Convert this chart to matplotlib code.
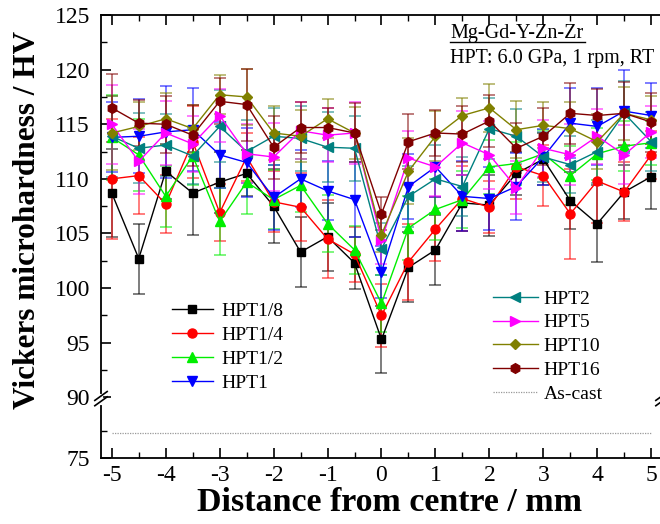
import numpy as np
import matplotlib
matplotlib.use("Agg")
import matplotlib.pyplot as plt
from matplotlib.lines import Line2D

plt.rcParams['font.family'] = ['Liberation Serif', 'DejaVu Serif']
plt.rcParams['axes.unicode_minus'] = False

# positions along the disc diameter (mm)
dist = [-5, -4.5, -4, -3.5, -3, -2.5, -2, -1.5, -1, -0.5, 0,
        0.5, 1, 1.5, 2, 2.5, 3, 3.5, 4, 4.5, 5]

hpt1_8 = [108.7, 102.7, 110.7, 108.7, 109.7, 110.5, 107.5, 103.3, 104.7, 102.3, 95.3,
          101.9, 103.5, 107.8, 107.6, 110.5, 111.8, 108.0, 105.9, 108.8, 110.2]
hpt1_4 = [110.0, 110.3, 107.7, 113.4, 106.9, 112.0, 107.9, 107.4, 104.5, 103.1, 97.5,
          102.4, 105.4, 108.2, 107.4, 111.1, 110.3, 106.8, 109.8, 108.8, 112.2]
hpt1_2 = [113.8, 112.2, 108.4, 112.1, 106.1, 109.7, 108.1, 109.4, 105.9, 103.5, 98.6,
          105.5, 107.2, 108.1, 111.1, 111.4, 112.3, 110.3, 112.3, 113.0, 113.3]
hpt1 = [113.8, 113.9, 114.3, 114.5, 112.2, 111.5, 108.3, 110.0, 108.9, 108.1, 101.5,
        109.3, 111.1, 108.4, 108.2, 109.3, 112.0, 115.1, 114.8, 116.2, 115.8]
hpt2 = [113.9, 112.8, 113.1, 112.1, 114.8, 112.5, 113.9, 113.7, 112.9, 112.8, 103.6,
        108.4, 110.0, 109.3, 114.6, 113.9, 112.0, 111.3, 112.5, 116.0, 113.4]
hpt5 = [115.0, 111.6, 114.2, 113.2, 115.8, 112.3, 112.0, 114.4, 114.0, 114.2, 104.4,
        111.9, 111.1, 113.3, 112.2, 109.2, 112.8, 112.2, 113.9, 112.2, 114.3]
hpt10 = [114.2, 114.8, 115.5, 114.6, 117.7, 117.5, 114.2, 113.9, 115.5, 114.2, 104.9,
         110.7, 113.9, 115.8, 116.5, 114.5, 114.9, 114.6, 113.4, 116.0, 115.4]
hpt16 = [116.5, 115.1, 115.0, 114.0, 117.1, 116.8, 112.9, 114.7, 114.7, 114.2, 106.8,
         113.4, 114.2, 114.1, 115.3, 112.8, 113.9, 116.0, 115.8, 116.0, 115.2]

# standard deviations
err1_8 = [4.0, 3.2, 2.5, 3.8, 2.8, 2.1, 3.4, 3.2, 3.1, 2.4, 3.1, 3.2, 3.2, 2.6, 2.8, 2.0, 2.4, 2.6, 3.5, 2.5, 3.0]
err1_4 = [5.5, 3.5, 2.7, 3.3, 2.6, 2.2, 2.8, 3.1, 3.6, 2.5, 2.9, 3.5, 2.9, 3.0, 2.4, 2.9, 2.8, 4.1, 3.8, 2.7, 2.2]
err1_2 = [3.9, 3.3, 2.8, 2.7, 3.1, 2.9, 2.7, 2.4, 2.6, 2.2, 2.6, 2.9, 2.8, 2.6, 2.5, 2.0, 2.2, 2.7, 2.4, 2.3, 2.0]
err1 = [3.2, 3.4, 4.2, 3.8, 3.0, 3.2, 3.0, 2.6, 2.7, 3.4, 2.4, 3.0, 2.8, 3.2, 2.9, 3.1, 2.6, 3.2, 3.5, 3.8, 3.0]
err2 = [3.7, 3.2, 2.8, 2.6, 3.3, 2.9, 2.6, 3.0, 3.2, 3.0, 2.4, 2.8, 3.1, 2.7, 2.8, 2.5, 2.3, 2.6, 2.9, 3.0, 2.7]
err5 = [3.6, 3.0, 2.9, 2.6, 2.4, 2.7, 3.1, 2.6, 2.5, 2.8, 2.2, 2.5, 2.7, 2.9, 3.1, 2.4, 2.6, 2.8, 2.5, 2.7, 2.4]
err10 = [3.4, 2.2, 2.4, 2.2, 1.8, 2.6, 2.5, 2.4, 1.8, 2.4, 1.6, 3.0, 2.3, 1.6, 2.2, 2.6, 2.1, 2.4, 2.5, 2.4, 2.2]
err16 = [3.1, 2.1, 2.6, 2.8, 2.1, 3.3, 2.9, 2.3, 1.8, 2.7, 1.5, 2.5, 2.1, 2.6, 2.4, 2.3, 2.6, 2.8, 2.4, 2.9, 2.7]

as_cast = 77.3

labels = ["HPT1/8", "HPT1/4", "HPT1/2", "HPT1", "HPT2", "HPT5", "HPT10", "HPT16"]
values = [hpt1_8, hpt1_4, hpt1_2, hpt1, hpt2, hpt5, hpt10, hpt16]
errors = [err1_8, err1_4, err1_2, err1, err2, err5, err10, err16]
colors = ["#000000", "#ff0000", "#00ee00", "#0000ff", "#008080", "#ff00ff", "#808000", "#800000"]
markers = ["s", "o", "^", "v", "<", ">", "D", "h"]
msizes = [5.5, 6.5, 6.5, 6.5, 6.5, 6.5, 5.5, 7]


# broken y axis: 80..90 squeezed into a small gap
def fwd(y):
    y = np.asarray(y, dtype=float)
    return np.where(y >= 90, y, np.where(y <= 80, y + 9.45, 89.45 + (y - 80) * 0.055))


def inv(t):
    t = np.asarray(t, dtype=float)
    return np.where(t >= 90, t, np.where(t <= 89.45, t - 9.45, 80 + (t - 89.45) / 0.055))


fig = plt.figure(figsize=(6.6, 5.24), dpi=100)
ax = fig.add_axes([101 / 660, 66 / 524, 561 / 660, 443 / 524])
ax.set_yscale('function', functions=(fwd, inv))

handles = []
for v, e, c, m, ms, lab in zip(values, errors, colors, markers, msizes, labels):
    cont = ax.errorbar(dist, v, yerr=e, color=c, ecolor=c, elinewidth=1.3, capsize=4,
                       capthick=1.3, lw=1.0, marker=m, ms=ms, mec=c, mfc=c)
    for art in cont[1]:
        art.set_alpha(0.55)
    for art in cont[2]:
        art.set_alpha(0.55)
    handles.append(Line2D([], [], color=c, lw=1.0, marker=m, ms=ms, mec=c, mfc=c, label=lab))

ax.plot([dist[0], dist[-1]], [as_cast, as_cast], ls=(0, (1, 1)), color="#999999", lw=0.9)
ascast_handle = Line2D([], [], ls=(0, (1, 1)), color="#999999", lw=0.9, label="As-cast")

ax.set_xlim(-5.2, 5.2)
ax.set_ylim(75, 125)
ax.set_xticks([-5, -4, -3, -2, -1, 0, 1, 2, 3, 4, 5])
ax.set_xticks([-4.5, -3.5, -2.5, -1.5, -0.5, 0.5, 1.5, 2.5, 3.5, 4.5], minor=True)
ax.set_yticks([75, 90, 95, 100, 105, 110, 115, 120, 125])
ax.set_yticks([77.5, 92.5, 97.5, 102.5, 107.5, 112.5, 117.5, 122.5], minor=True)
ax.tick_params(which='major', direction='in', length=7, width=1.2, labelsize=17, pad=8, top=True)
ax.tick_params(which='minor', direction='in', length=4, width=1.0, top=True)
ax.tick_params(axis='x', which='major', pad=5)
for s in ax.spines.values():
    s.set_linewidth(1.3)
ax.spines['right'].set_visible(False)

ax.set_xlabel("Distance from centre / mm", fontsize=24.5, fontweight='bold')
ax.set_ylabel("Vickers microhardness / HV", fontsize=22.5, fontweight='bold')
ax.xaxis.set_label_coords(0.515, -0.065)
ax.yaxis.set_label_coords(-0.105, 0.537)

# break marks on the y axis (left spine and the clipped right one)
for xb in (0.0, 1.0):
    ax.plot([xb, xb], [0.124, 0.140], transform=ax.transAxes, color='white', lw=3,
            clip_on=False, zorder=5)
    for yb in (0.118, 0.130):
        ax.plot([xb - 0.011, xb + 0.011], [yb, yb + 0.02], transform=ax.transAxes,
                color='black', lw=1.2, clip_on=False, zorder=6)

leg1 = ax.legend(handles=handles[:4], loc='upper left', bbox_to_anchor=(172 / 660, 1 - 302 / 524),
                 bbox_transform=fig.transFigure, frameon=False, fontsize=14, borderpad=0,
                 borderaxespad=0, labelspacing=0.34, handlelength=2.1, handletextpad=0.45)
ax.add_artist(leg1)
ax.legend(handles=handles[4:] + [ascast_handle], loc='upper left', bbox_to_anchor=(493 / 660, 1 - 290 / 524),
          bbox_transform=fig.transFigure, frameon=False, fontsize=14, borderpad=0,
          borderaxespad=0, labelspacing=0.32, handlelength=2.3, handletextpad=0.3)

fig.text(450 / 660, 1 - 38 / 524, "Mg-Gd-Y-Zn-Zr", fontsize=14.5, va='baseline', ha='left')
fig.add_artist(Line2D([450 / 660, 585 / 660], [1 - 42 / 524, 1 - 42 / 524], color='black', lw=1.0))
fig.text(450 / 660, 1 - 63 / 524, "HPT: 6.0 GPa, 1 rpm, RT", fontsize=14.5, va='baseline', ha='left')

fig.savefig("out.png", dpi=100)
